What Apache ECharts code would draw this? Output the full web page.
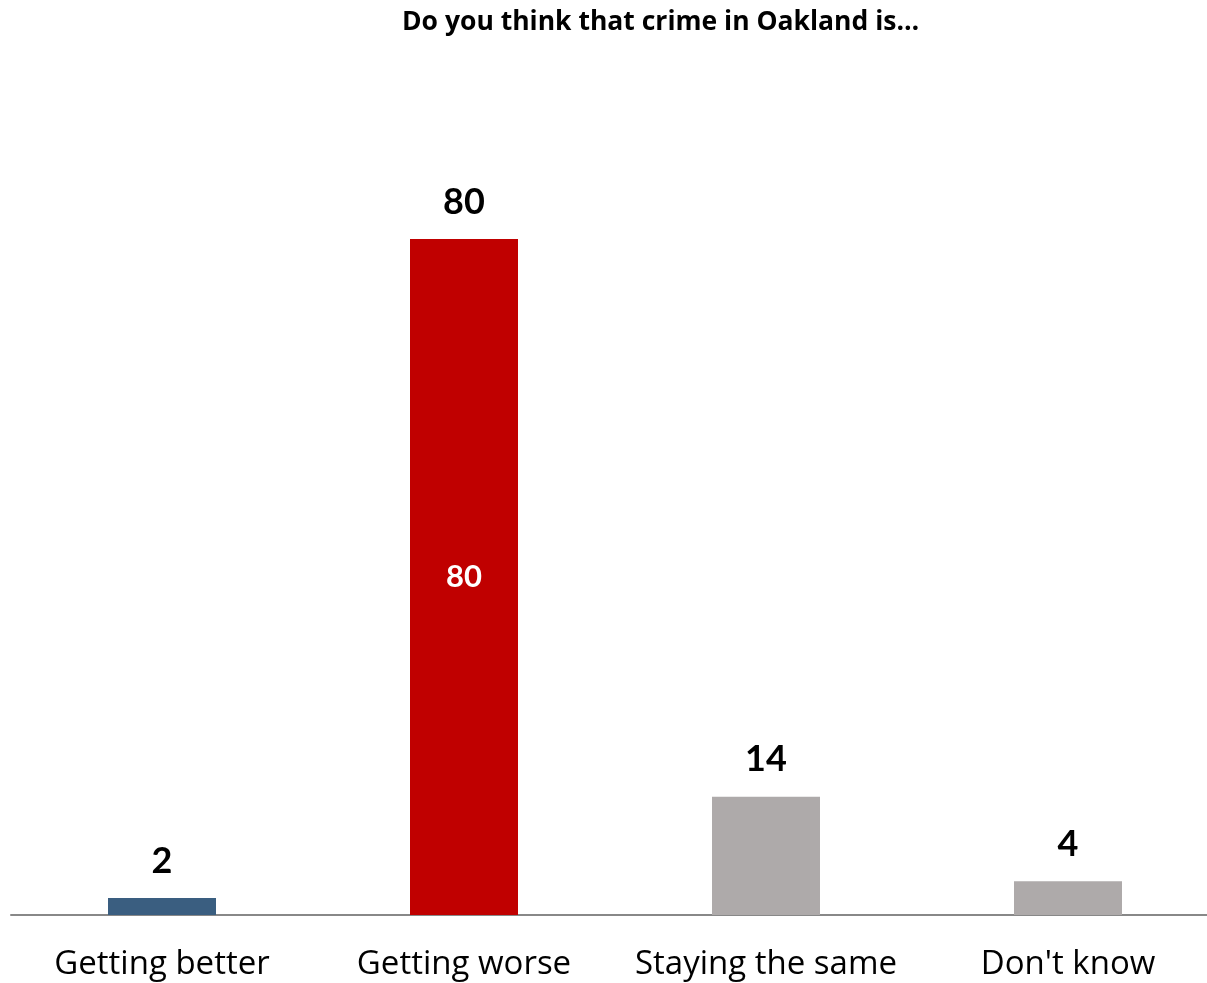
<!DOCTYPE html>
<html>
<head>
<meta charset="utf-8">
<script src="https://cdn.jsdelivr.net/npm/echarts@6/dist/echarts.min.js"></script>
<style>html,body{margin:0;padding:0;background:#fff}#c{width:1207px;height:983px}</style>
</head>
<body>
<div id="c"></div>
<script>
const title = "Do you think that crime in Oakland is…";
const categories = ["Getting better", "Getting worse", "Staying the same", "Don't know"];
const values = [2, 80, 14, 4];
const colors = ["#3A5E80", "#C00000", "#AEAAAA", "#AEAAAA"];
const insideLabelIndex = 1;

const FONT = "Lato, 'Open Sans', sans-serif";
const FONT2 = "'Open Sans', Lato, sans-serif";
const chart = echarts.init(document.getElementById('c'));
chart.setOption({
  animation: false,
  title: {
    text: title, left: 397, top: 4,
    textStyle: { fontFamily: FONT2, fontWeight: 'bold', fontSize: 26.5, color: '#000' }
  },
  grid: { left: 11, top: 70, width: 1208, bottom: 68, containLabel: false, outerBoundsMode: 'none' },
  xAxis: {
    type: 'category', data: categories,
    axisLine: { lineStyle: { color: '#888', width: 2 } },
    axisTick: { show: false },
    axisLabel: { interval: 0, hideOverlap: false, fontFamily: FONT2, fontSize: 33, color: '#000', margin: 33 }
  },
  yAxis: { type: 'value', min: 0, max: 100, show: false, splitLine: { show: false } },
  series: [
    {
      type: 'bar', barWidth: 108,
      data: values.map((v, i) => ({ value: v, itemStyle: { color: colors[i] } })),
      label: { show: true, position: 'top', distance: 19, fontFamily: FONT, fontWeight: 'bold', fontSize: 36, color: '#000' }
    },
    {
      type: 'bar', barWidth: 108, barGap: '-100%',
      data: values.map((v, i) => ({
        value: v,
        itemStyle: { color: 'transparent' },
        label: { show: i === insideLabelIndex }
      })),
      label: { position: 'inside', fontFamily: FONT, fontWeight: 'bold', fontSize: 31, color: '#fff' },
      silent: true
    }
  ]
});
</script>
</body>
</html>
